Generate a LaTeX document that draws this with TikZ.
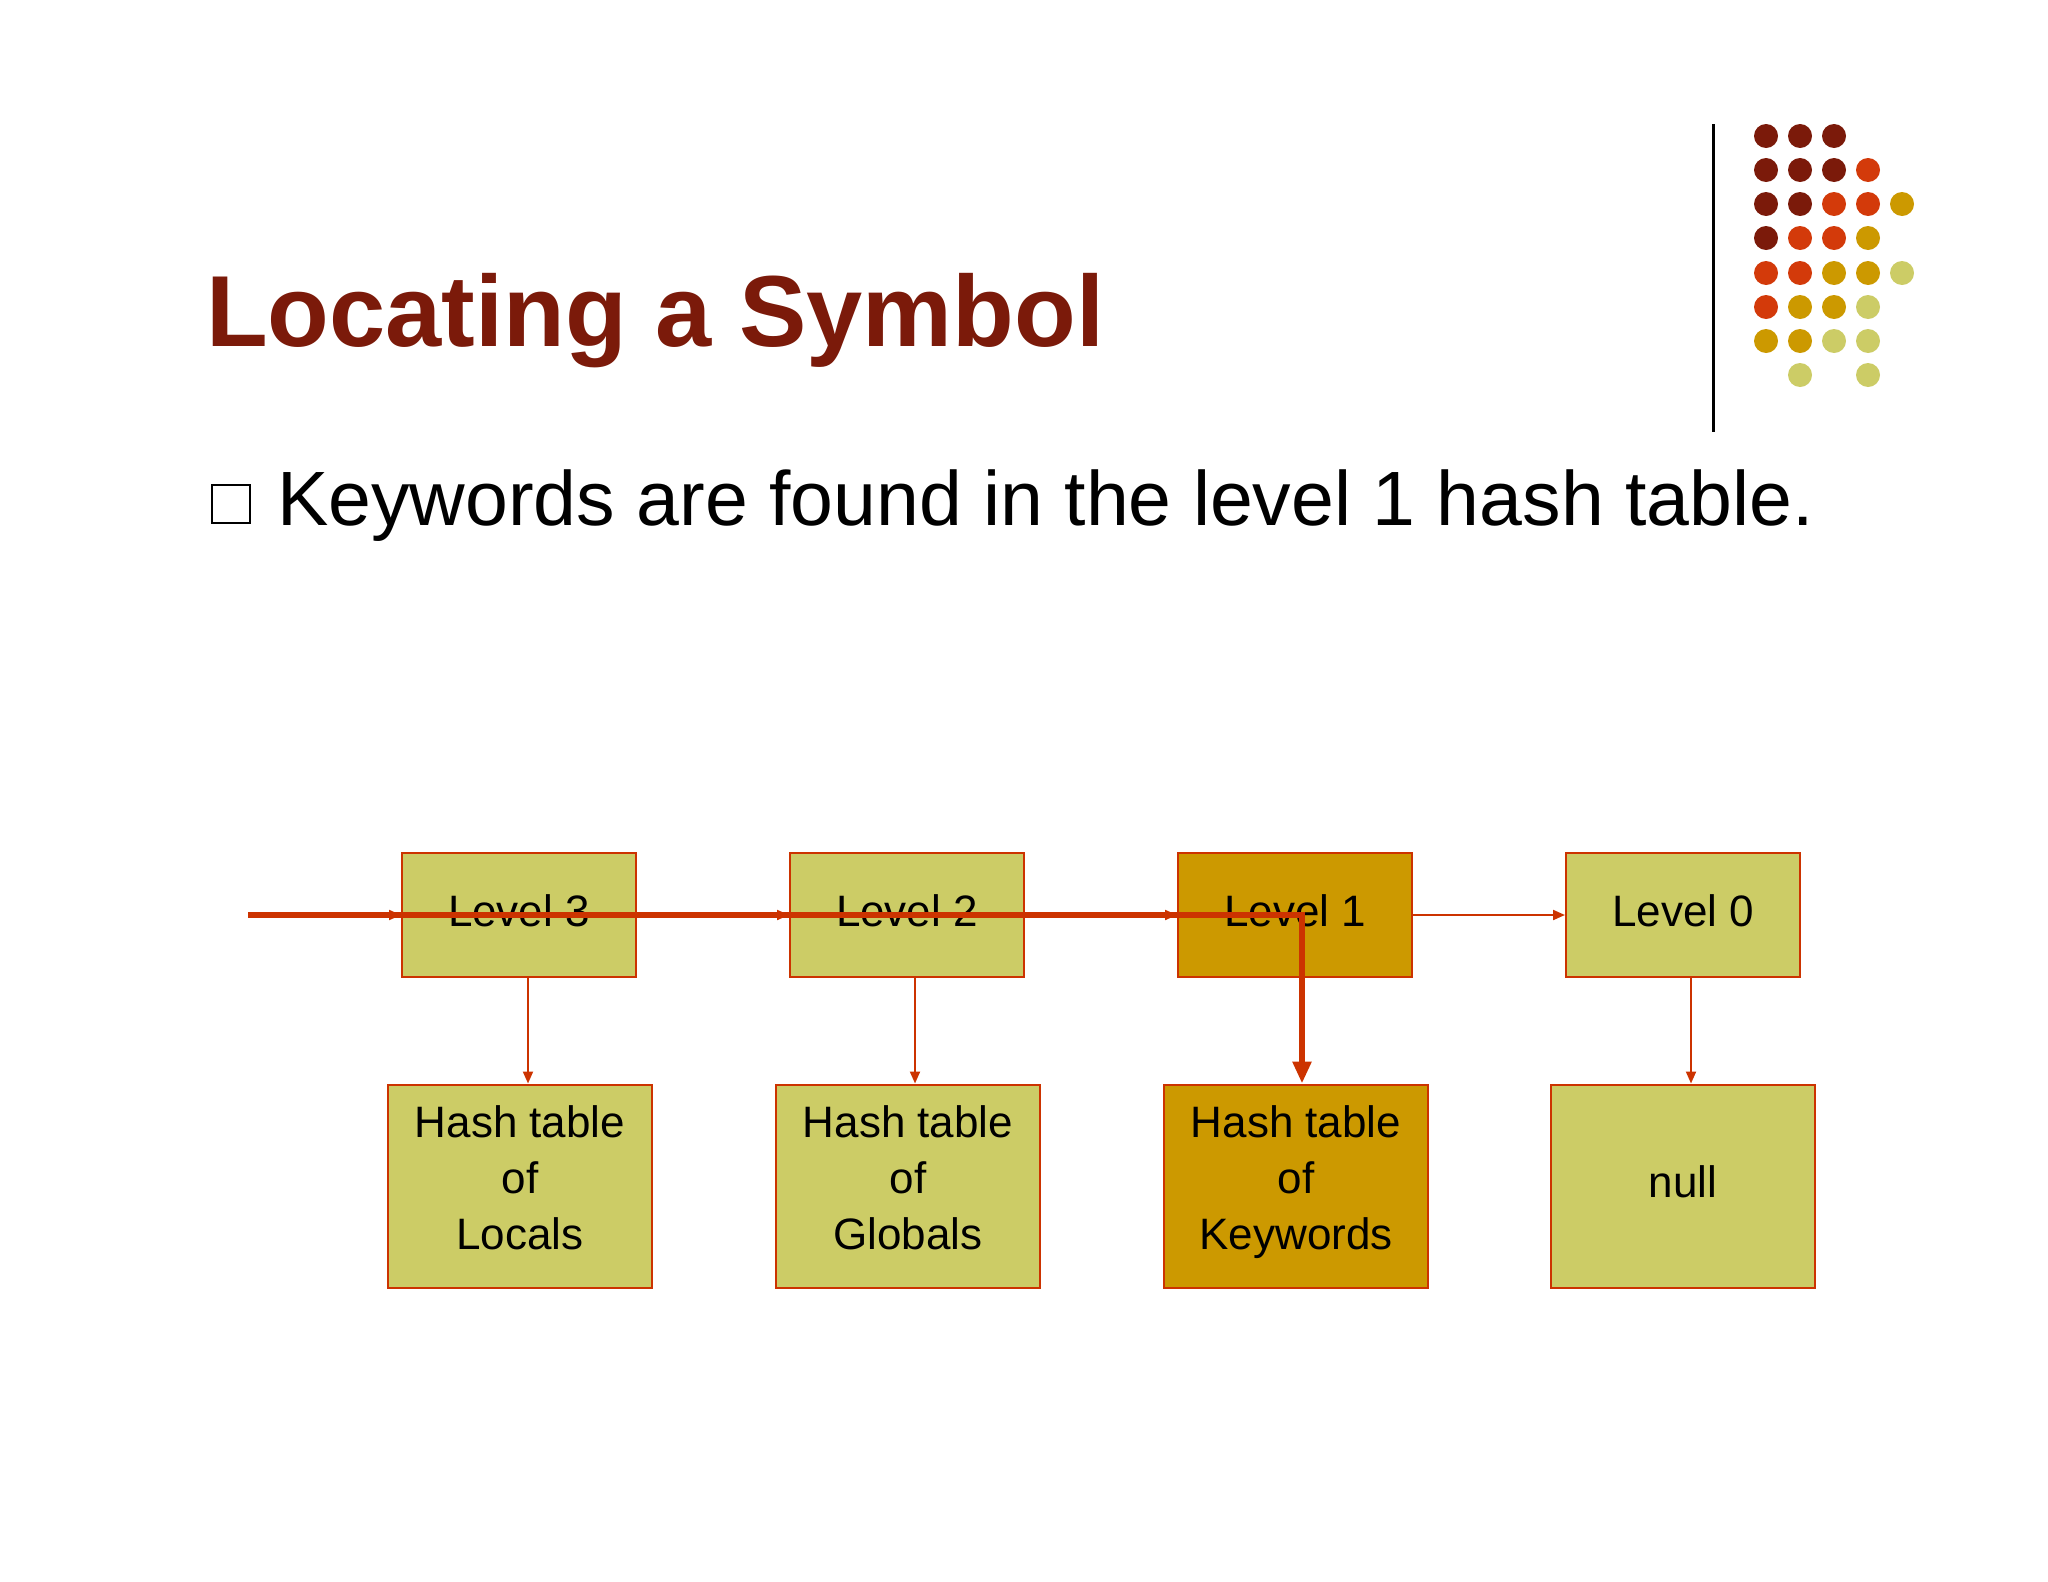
\documentclass[tikz,border=0pt]{standalone}
\usepackage{fontspec}
\setmainfont{Liberation Sans}
\usetikzlibrary{arrows.meta}
\definecolor{dk}{HTML}{7B1A0A}
\definecolor{orr}{HTML}{D33A0A}
\definecolor{gld}{HTML}{CC9900}
\definecolor{lgt}{HTML}{CCCC66}
\definecolor{edg}{HTML}{CC3300}
\begin{document}
\begin{tikzpicture}[x=1pt,y=-1pt,
  lvl/.style={draw=edg,line width=2pt,fill=lgt,minimum width=234pt,minimum height=124pt,inner sep=0pt,font=\fontsize{44}{56}\selectfont,align=center},
  tbl/.style={lvl,minimum width=264pt,minimum height=203pt},
  hot/.style={fill=gld},
  thin/.style={draw=edg,line width=2pt,-{Triangle[length=12pt,width=10pt]}},
  thick/.style={draw=edg,line width=6pt}]
\useasboundingbox (0,0) rectangle (2048,1582);
\node[anchor=base west,text=dk,font=\fontsize{101}{112}\selectfont\bfseries,inner sep=0pt] (title) at (206,346) {Locating a Symbol};
\draw[line width=2.5pt] (212,485) rectangle (250,523);
\node[anchor=base west,font=\fontsize{77}{88}\selectfont,inner sep=0pt] (bullet) at (277,525) {Keywords are found in the level 1 hash table.};
\draw[line width=3pt] (1713,124) -- (1713,432);
\foreach \r/\cols in {136/{1/dk,2/dk,3/dk},170/{1/dk,2/dk,3/dk,4/orr},204/{1/dk,2/dk,3/orr,4/orr,5/gld},238/{1/dk,2/orr,3/orr,4/gld},273/{1/orr,2/orr,3/gld,4/gld,5/lgt},307/{1/orr,2/gld,3/gld,4/lgt},341/{1/gld,2/gld,3/lgt,4/lgt},375/{2/lgt,4/lgt}}{
  \foreach \c/\col in \cols { \fill[\col] ({1766+(\c-1)*34},\r) circle (12); }
}
\node[lvl] (l3) at (519,915) {Level 3\strut};
\node[lvl] (l2) at (907,915) {Level 2\strut};
\node[lvl,hot] (l1) at (1295,915) {Level 1\strut};
\node[lvl] (l0) at (1683,915) {Level 0\strut};
\node[tbl] (t3) at (520,1186) {Hash table\\of\\Locals\strut};
\node[tbl] (t2) at (908,1186) {Hash table\\of\\Globals\strut};
\node[tbl,hot] (t1) at (1296,1186) {Hash table\\of\\Keywords\strut};
\node[tbl] (t0) at (1683,1186) {null\strut};
\coordinate (start) at (248,915);
\coordinate (turn) at (1302,915);
\draw[thin] (start) -- (l3.west);
\draw[thin] (l3.east) -- (l2.west);
\draw[thin] (l2.east) -- (l1.west);
\draw[thin] (l1.east) -- (l0.west);
\draw[thin] (l3.south -| 528,0) -- (t3.north -| 528,0);
\draw[thin] (l2.south -| 915,0) -- (t2.north -| 915,0);
\draw[thin] (l0.south -| 1691,0) -- (t0.north -| 1691,0);
\draw[thick,-{Triangle[length=22pt,width=18pt]}] (start) -- (turn) -- (turn |- t1.north);
\end{tikzpicture}
\end{document}
